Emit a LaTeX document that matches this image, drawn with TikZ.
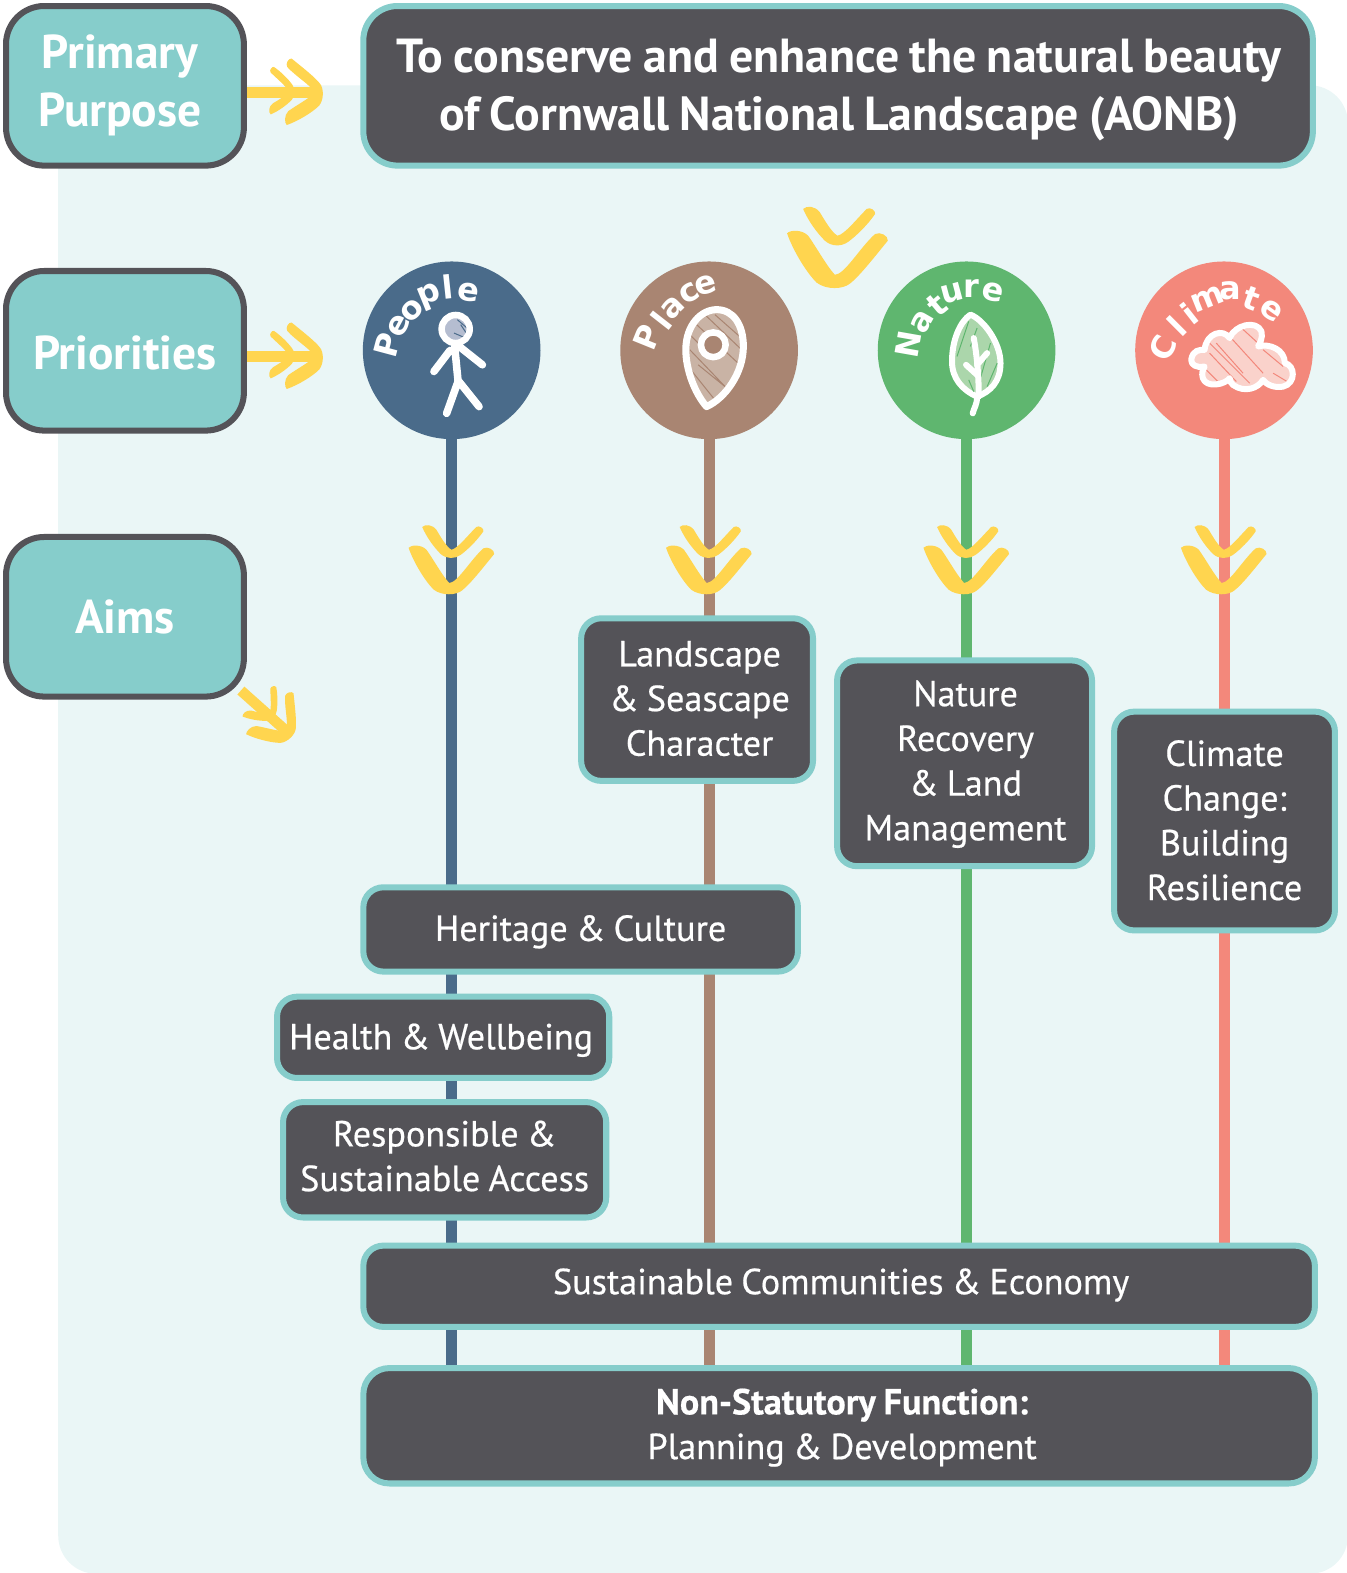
\documentclass[tikz,border=0pt]{standalone}
\usepackage{fontspec}
\setmainfont{PT Sans}[WordSpace=0.85]
\newfontfamily\handfont{DejaVu Sans}
\usetikzlibrary{calc}
\definecolor{bgpale}{HTML}{EAF6F6}
\definecolor{teal1}{HTML}{86CDCB}
\definecolor{dark1}{HTML}{545358}
\definecolor{yel}{HTML}{FFD54F}
\definecolor{cpeople}{HTML}{4A6B8A}
\definecolor{cplace}{HTML}{A98572}
\definecolor{cnature}{HTML}{5FB66F}
\definecolor{cclimate}{HTML}{F3887B}
\definecolor{cpin}{HTML}{C9B3A5}
\definecolor{chead}{HTML}{B5BDD0}
\definecolor{cleaf}{HTML}{ABD6AB}
\definecolor{ccloud}{HTML}{FAD2CB}
% text block inside a box, moved by dx, dy (in bp) from the box centre
\newcommand{\Lines}[3]{\raisebox{-#2bp}[\height][\depth]{\hspace*{#1bp}\hspace*{#1bp}\begin{tabular}{@{}c@{}}#3\end{tabular}}}
\tikzset{
 x=1bp,y=-1bp,
 zoomframe/.style 2 args={shift={(#1,#2)},x=0.3333bp,y=-0.3333bp},
 tagbox/.style={draw=dark1,line width=6bp,fill=teal1,rounded corners=38bp,text=white,align=center,inner sep=0pt,minimum width=237bp,minimum height=159bp,font=\fontsize{47.5}{58.2}\selectfont\bfseries},
 aimbox/.style={draw=teal1,line width=6bp,fill=dark1,rounded corners=20bp,text=white,align=center,inner sep=0pt,font=\fontsize{36.2}{44.7}\selectfont\addfontfeature{FakeBold=0.5}},
 titlebox/.style={draw=teal1,line width=6bp,fill=dark1,text=white,align=center,inner sep=0pt,rounded corners=34bp,font=\fontsize{47.8}{58.2}\selectfont\bfseries},
 disc/.style={circle,inner sep=0pt,minimum size=177bp},
 stem/.style={line width=11bp},
 shaft/.style={draw=yel,line width=10.5bp},
 icon/.style={draw=white,line width=6bp,line cap=round,line join=round},
 hatch/.style={line width=1bp},
 letter/.style={text=white,inner sep=0pt,font=\handfont\fontsize{32}{32}\selectfont\bfseries},
 dblchev/.pic={
  \begin{scope}[x=0.3333bp,y=-0.3333bp,shift={(-200,-293)}]
  \fill[yel] (52,128) .. controls (60,118) and (95,115) .. (115,135) .. controls (140,170) and (170,225) .. (195,252) .. controls (225,250) and (270,170) .. (315,130) .. controls (330,122) and (355,135) .. (353,150) .. controls (320,190) and (270,255) .. (240,278) .. controls (220,295) and (170,298) .. (140,275) .. controls (110,245) and (70,180) .. (52,128) -- cycle;
  \fill[yel] (100,55) .. controls (110,45) and (135,45) .. (150,65) .. controls (165,90) and (185,125) .. (203,135) .. controls (225,130) and (260,85) .. (290,55) .. controls (300,48) and (318,60) .. (315,70) .. controls (295,100) and (260,135) .. (235,153) .. controls (215,168) and (185,168) .. (165,150) .. controls (140,125) and (115,90) .. (100,55) -- cycle;
  \end{scope}
 }
}
\begin{document}
\begin{tikzpicture}
\useasboundingbox (0,0) rectangle (1341.7,1567.2);
\fill[bgpale,rounded corners=38bp] (58,85) rectangle (1343,1568);

% priority discs
\node[disc,fill=cpeople] (people) at (450,349) {};
\node[disc,fill=cplace] (place) at (706.5,349) {};
\node[disc,fill=cnature] (nature) at (963,349) {};
\node[disc,fill=cclimate] (climate) at (1219.5,349) {};

% lowest box comes first so the stems can end on it
\node[aimbox,minimum width=948bp,minimum height=115bp,rounded corners=26bp] (nonstat) at (836,1420.5) {\Lines{3}{2}{{\bfseries Non-Statutory Function:}\\Planning \& Development}};

\draw[stem,cpeople] (people.south) -- (nonstat.north -| people);
\draw[stem,cplace] (place.south) -- (nonstat.north -| place);
\draw[stem,cnature] (nature.south) -- (nonstat.north -| nature);
\draw[stem,cclimate] (climate.south) -- (nonstat.north -| climate);

% tag boxes and title
\coordinate (tipa) at (317,92);
\coordinate (tipb) at (317,355);
\coordinate (tipc) at (286,729);
\node[tagbox] (primary) at (124.5,85.5) {\Lines{-5}{0}{Primary\\Purpose}};
\node[tagbox] (priorities) at (124.5,349.5) {\Lines{0}{7}{Priorities}};
\node[tagbox] (aims) at (124.5,614.5) {\Lines{0}{5}{Aims}};
\node[titlebox,minimum width=946bp,minimum height=159bp] (title) at (835,85.5) {\Lines{1}{4}{To conserve and enhance the natural beauty\\of Cornwall National Landscape (AONB)}};

\draw[shaft] (primary.east |- tipa) -- (tipa);
\draw[shaft] (priorities.east |- tipb) -- (tipb);
\draw[shaft] ($(aims.south east)+(-6,-9)$) -- (tipc);
\pic[rotate=90,scale=.66] at (322,92) {dblchev};
\pic[rotate=90,scale=.66] at (322,355) {dblchev};
\pic[rotate=45,scale=.62] at (291,734) {dblchev};

% chevrons
\pic at (833.5,287.5) {dblchev};
\pic[scale=.85] at (449,592.5) {dblchev};
\pic[scale=.85] at (705.5,592.5) {dblchev};
\pic[scale=.85] at (962,592.5) {dblchev};
\pic[scale=.85] at (1218.5,592.5) {dblchev};

% aim boxes
\node[aimbox,minimum width=231bp,minimum height=162bp] (landscape) at (694.5,697) {\Lines{2.5}{2.5}{Landscape\\\& Seascape\\Character}};
\node[aimbox,minimum width=254bp,minimum height=205bp] (naturebox) at (961,760.5) {\Lines{1}{1}{Nature\\Recovery\\\& Land\\Management}};
\node[aimbox,minimum width=220bp,minimum height=218bp] (climatebox) at (1220,818) {\Lines{0}{3}{Climate\\Change:\\Building\\Resilience}};
\node[aimbox,minimum width=433bp,minimum height=84bp] (heritage) at (578.5,926) {\Lines{0}{2.5}{Heritage \& Culture}};
\node[aimbox,minimum width=331bp,minimum height=81bp] (health) at (441.5,1033.5) {\Lines{-2}{3}{Health \& Wellbeing}};
\node[aimbox,minimum width=322bp,minimum height=115bp] (access) at (443,1155.5) {\Lines{0}{0}{Responsible \&\\Sustainable Access}};
\node[aimbox,minimum width=948bp,minimum height=81bp] (communities) at (836,1281.5) {\Lines{2}{-1}{Sustainable Communities \& Economy}};

% hand lettering on the discs
\foreach \ch/\px/\py/\rot [count=\i] in {P/386/344/75,e/397/325/62,o/411/309/45,p/428/296/22,l/446/286/6,e/467/291/-8}
  \node[letter,rotate=\rot] (lpeople\i) at (\px,\py) {\ch};
\foreach \ch/\px/\py/\rot [count=\i] in {P/645/336/68,l/659/320/52,a/670/307/45,c/687/292/30,e/703/284/15}
  \node[letter,rotate=\rot] (lplace\i) at (\px,\py) {\ch};
\foreach \ch/\px/\py/\rot [count=\i] in {N/905/343/80,a/919/321/60,t/934/304/40,u/949/292/15,r/968/287/0,e/989/291/-12}
  \node[letter,rotate=\rot] (lnature\i) at (\px,\py) {\ch};
\foreach \ch/\px/\py/\rot [count=\i] in {C/1159/347/65,l/1172/325/45,i/1185/312/38,m/1203/298/22,a/1226/290/0,t/1247/297/-20,e/1267/309/-35}
  \node[letter,rotate=\rot] (lclimate\i) at (\px,\py) {\ch};

% person icon (coordinates in 3x zoom frame)
\begin{scope}[zoomframe={349}{248.5}]
 \fill[chead] (315,238) circle (40);
 \begin{scope}
 \clip (315,238) circle (40);
 \draw[hatch,cpeople] (320,210)--(355,240) (330,225)--(350,255) (310,250)--(345,265);
 \end{scope}
 \draw[icon,line width=6.5bp] (315,238) circle (42);
 \draw[icon,line width=7.5bp] (312,290)--(322,392) (298,302)--(250,365) (332,295)--(395,345);
 \draw[icon,line width=7.5bp] (322,395)--(288,490) (325,395)--(385,470);
% pin icon
 \fill[cpin] (1065,470) .. controls (1030,430) and (1003,360) .. (1003,300) .. controls (1003,225) and (1050,180) .. (1095,180) .. controls (1145,180) and (1175,225) .. (1175,290) .. controls (1175,370) and (1120,445) .. (1065,470) -- cycle;
 \begin{scope}
 \clip (1065,470) .. controls (1030,430) and (1003,360) .. (1003,300) .. controls (1003,225) and (1050,180) .. (1095,180) .. controls (1145,180) and (1175,225) .. (1175,290) .. controls (1175,370) and (1120,445) .. (1065,470) -- cycle;
 \draw[hatch,cplace] (1090,195)--(1175,270) (1030,220)--(1170,350) (1015,300)--(1130,420) (1010,350)--(1090,450) (1040,345)--(1120,410) (1060,195)--(1170,300) (1010,250)--(1050,290);
 \end{scope}
 \draw[icon,line width=7bp] (1065,470) .. controls (1030,430) and (1003,360) .. (1003,300) .. controls (1003,225) and (1050,180) .. (1095,180) .. controls (1145,180) and (1175,225) .. (1175,290) .. controls (1175,370) and (1120,445) .. (1065,470) -- cycle;
 \draw[icon,fill=cplace,line width=6.5bp] (1085,285) circle (37);
\end{scope}

\begin{scope}[zoomframe={858.5}{248.5}]
% leaf icon
 \filldraw[icon,fill=cleaf] (345,440) .. controls (300,420) and (270,385) .. (270,335) .. controls (270,270) and (295,215) .. (325,195) .. controls (365,210) and (415,280) .. (415,340) .. controls (415,395) and (385,425) .. (345,440) -- cycle;
 \begin{scope}
 \clip (345,440) .. controls (300,420) and (270,385) .. (270,335) .. controls (270,270) and (295,215) .. (325,195) .. controls (365,210) and (415,280) .. (415,340) .. controls (415,395) and (385,425) .. (345,440) -- cycle;
 \draw[hatch,cnature] (320,215)--(285,320) (345,235)--(325,290) (385,280)--(345,420) (405,340)--(375,410) (320,390)--(335,425);
 \end{scope}
 \draw[icon] (345,440) .. controls (345,465) and (335,475) .. (332,490);
 \draw[icon] (335,265) .. controls (345,320) and (350,380) .. (350,440);
 \draw[icon] (375,310) -- (345,345) (312,345) -- (345,375);
% cloud icon
 \fill[ccloud] (985,330) .. controls (990,300) and (1010,300) .. (1025,300) .. controls (1030,250) and (1080,235) .. (1100,265) .. controls (1115,225) and (1180,210) .. (1195,245) .. controls (1200,265) and (1190,280) .. (1185,290) .. controls (1220,280) and (1265,300) .. (1265,340) .. controls (1295,345) and (1300,400) .. (1260,410) .. controls (1235,415) and (1210,405) .. (1200,390) .. controls (1185,415) and (1145,430) .. (1110,405) .. controls (1105,400) and (1100,395) .. (1100,385) .. controls (1085,405) and (1030,415) .. (1020,385) .. controls (1015,370) and (1020,360) .. (1025,350) .. controls (1000,355) and (985,345) .. (985,330) -- cycle;
 \begin{scope}
 \clip (985,330) .. controls (990,300) and (1010,300) .. (1025,300) .. controls (1030,250) and (1080,235) .. (1100,265) .. controls (1115,225) and (1180,210) .. (1195,245) .. controls (1200,265) and (1190,280) .. (1185,290) .. controls (1220,280) and (1265,300) .. (1265,340) .. controls (1295,345) and (1300,400) .. (1260,410) .. controls (1235,415) and (1210,405) .. (1200,390) .. controls (1185,415) and (1145,430) .. (1110,405) .. controls (1105,400) and (1100,395) .. (1100,385) .. controls (1085,405) and (1030,415) .. (1020,385) .. controls (1015,370) and (1020,360) .. (1025,350) .. controls (1000,355) and (985,345) .. (985,330) -- cycle;
 \draw[hatch,cclimate] (1030,270)--(1160,400) (1040,310)--(1120,395) (1100,260)--(1200,370) (1130,230)--(1190,285) (1200,300)--(1260,350) (1230,370)--(1280,400) (1030,360)--(1070,400) (1060,280)--(1140,370);
 \end{scope}
 \draw[icon] (985,330) .. controls (990,300) and (1010,300) .. (1025,300) .. controls (1030,250) and (1080,235) .. (1100,265) .. controls (1115,225) and (1180,210) .. (1195,245) .. controls (1200,265) and (1190,280) .. (1185,290) .. controls (1220,280) and (1265,300) .. (1265,340) .. controls (1295,345) and (1300,400) .. (1260,410) .. controls (1235,415) and (1210,405) .. (1200,390) .. controls (1185,415) and (1145,430) .. (1110,405) .. controls (1105,400) and (1100,395) .. (1100,385) .. controls (1085,405) and (1030,415) .. (1020,385) .. controls (1015,370) and (1020,360) .. (1025,350) .. controls (1000,355) and (985,345) .. (985,330) -- cycle;
\end{scope}
\end{tikzpicture}
\end{document}
